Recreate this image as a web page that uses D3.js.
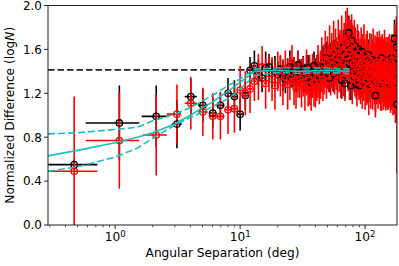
<!DOCTYPE html>
<html><head><meta charset="utf-8">
<script src="https://cdn.jsdelivr.net/npm/d3@7"></script>
<style>body{margin:0;background:#fff}svg{display:block}text{font-family:"DejaVu Sans",sans-serif;fill:#000}</style>
</head><body><svg id="c" width="399" height="266"></svg>
<script>
// ---- binned points (small separations) ----
const binX      = [0.47, 1.08, 2.13, 3.12, 4.03, 5.03, 6.04, 6.95, 8.0, 9.0, 10.0];
const blackBinY = [0.55, 0.93, 0.99, 0.92, 1.17, 1.09, 1.02, 1.09, 1.20, 1.17, 1.01];
const blackBinE = [0.05, 0.34, 0.28, 0.22, 0.16, 0.15, 0.14, 0.12, 0.14, 0.15, 0.15];
const blackBinXLo = [0.29, 0.58, 1.63, 2.84, 3.6, 4.6, 5.6, 6.5, 7.5, 8.5, 9.5];
const blackBinXHi = [0.72, 1.56, 2.67, 3.41, 4.5, 5.5, 6.5, 7.5, 8.5, 9.5, 10.5];
const redBinY   = [0.49, 0.77, 0.82, 1.01, 1.11, 1.03, 0.99, 0.99, 1.05, 1.06, 1.23];
const redBinE   = [0.68, 0.44, 0.37, 0.27, 0.24, 0.22, 0.21, 0.21, 0.22, 0.22, 0.22];
const redBinXLo = [0.29, 0.58, 1.67, 2.59, 3.6, 4.6, 5.6, 6.5, 7.5, 8.5, 9.5];
const redBinXHi = [0.72, 1.56, 2.59, 3.31, 4.5, 5.5, 6.5, 7.5, 8.5, 9.5, 10.5];

// ---- dense points, one per degree from 11 to 180 ----
const denseX = d3.range(11, 181);
const denseHalfWidth = 0.5;
const blackDenseY = [
1.18,1.41,1.45,1.39,1.34,1.43,1.44,1.38,1.40,1.37,
1.42,1.36,1.33,1.40,1.44,1.38,1.41,1.35,1.46,1.39,
1.37,1.42,1.34,1.40,1.43,1.36,1.30,1.39,1.45,1.38,
1.33,1.41,1.36,1.44,1.40,1.47,1.37,1.43,1.52,1.39,
1.46,1.34,1.50,1.42,1.48,1.38,1.55,1.44,1.36,1.51,
1.45,1.58,1.40,1.53,1.32,1.49,1.62,1.44,1.29,1.56,
1.47,1.66,1.52,1.75,1.41,1.60,1.27,1.68,1.50,1.43,
1.57,1.35,1.63,1.46,1.28,1.54,1.42,1.60,1.38,1.27,
1.50,1.44,1.36,1.58,1.41,1.32,1.47,1.39,1.53,1.35,
1.44,1.30,1.49,1.38,1.42,1.55,1.34,1.46,1.40,1.28,
1.43,1.37,1.51,1.33,1.45,1.39,1.48,1.31,1.42,1.36,
1.18,1.44,1.38,1.50,1.34,1.41,1.47,1.29,1.43,1.37,
1.40,1.33,1.46,1.38,1.52,1.35,1.42,1.30,1.44,1.39,
1.36,1.48,1.31,1.41,1.37,1.45,1.33,1.40,1.50,1.35,
1.38,1.43,1.30,1.46,1.36,1.41,1.28,1.44,1.39,1.47,
1.34,1.40,1.52,1.37,1.31,1.45,1.42,1.36,1.48,1.33,
1.39,1.70,1.35,1.43,1.30,1.46,1.38,1.41,1.62,1.10];
const blackDenseE = [
0.13,0.12,0.14,0.12,0.13,0.15,0.12,0.13,0.14,0.12,
0.12,0.14,0.13,0.12,0.15,0.13,0.12,0.14,0.13,0.12,
0.14,0.12,0.13,0.15,0.12,0.13,0.14,0.12,0.13,0.14,
0.13,0.15,0.12,0.14,0.13,0.16,0.12,0.14,0.15,0.13,
0.15,0.13,0.16,0.14,0.13,0.17,0.14,0.15,0.13,0.16,
0.14,0.16,0.13,0.15,0.17,0.14,0.16,0.15,0.13,0.17,
0.15,0.17,0.14,0.16,0.15,0.18,0.13,0.16,0.15,0.14,
0.16,0.14,0.17,0.15,0.13,0.16,0.14,0.17,0.15,0.13,
0.15,0.14,0.16,0.13,0.15,0.17,0.14,0.15,0.16,0.13,
0.14,0.16,0.15,0.13,0.17,0.14,0.15,0.16,0.13,0.15,
0.16,0.14,0.15,0.17,0.13,0.16,0.14,0.15,0.16,0.14,
0.15,0.17,0.14,0.16,0.15,0.13,0.17,0.15,0.14,0.16,
0.15,0.16,0.14,0.17,0.15,0.14,0.16,0.15,0.17,0.14,
0.16,0.15,0.17,0.14,0.16,0.15,0.18,0.14,0.16,0.15,
0.17,0.15,0.16,0.18,0.14,0.17,0.15,0.16,0.18,0.15,
0.16,0.18,0.15,0.17,0.19,0.16,0.18,0.15,0.17,0.19,
0.18,0.17,0.20,0.18,0.19,0.17,0.21,0.18,0.20,0.16];
const redDenseY = [
1.20,1.24,1.31,1.35,1.44,1.29,1.38,1.33,1.27,1.40,
1.36,1.30,1.42,1.28,1.34,1.46,1.31,1.25,1.37,1.33,
1.29,1.35,1.24,1.39,1.27,1.32,1.22,1.36,1.30,1.26,
1.34,1.40,1.29,1.37,1.46,1.33,1.42,1.51,1.36,1.48,
1.43,1.55,1.39,1.50,1.45,1.58,1.41,1.53,1.47,1.36,
1.60,1.44,1.52,1.38,1.63,1.49,1.42,1.57,1.35,1.66,
1.54,1.70,1.45,1.62,1.38,1.58,1.49,1.64,1.33,1.55,
1.47,1.60,1.39,1.52,1.44,1.31,1.56,1.42,1.50,1.36,
1.45,1.33,1.53,1.40,1.28,1.48,1.37,1.55,1.43,1.30,
1.39,1.47,1.32,1.51,1.36,1.44,1.27,1.42,1.49,1.35,
1.31,1.46,1.38,1.43,1.29,1.52,1.36,1.41,1.34,1.47,
1.25,1.40,1.45,1.33,1.48,1.37,1.30,1.44,1.39,1.51,
1.35,1.42,1.28,1.46,1.38,1.32,1.49,1.36,1.41,1.30,
1.44,1.37,1.50,1.33,1.40,1.27,1.45,1.38,1.35,1.47,
1.32,1.41,1.36,1.29,1.44,1.38,1.49,1.34,1.40,1.31,
1.43,1.36,1.30,1.47,1.39,1.33,1.28,1.42,1.37,1.45,
1.31,1.55,1.40,1.34,1.26,1.48,1.36,1.58,1.44,1.17];
const redDenseE = [
0.20,0.22,0.18,0.21,0.19,0.23,0.17,0.20,0.22,0.18,
0.19,0.21,0.17,0.23,0.20,0.18,0.22,0.19,0.21,0.17,
0.22,0.18,0.20,0.21,0.19,0.23,0.18,0.20,0.22,0.19,
0.21,0.24,0.19,0.22,0.25,0.20,0.23,0.26,0.21,0.24,
0.22,0.27,0.21,0.25,0.23,0.28,0.22,0.26,0.24,0.21,
0.27,0.23,0.26,0.22,0.28,0.24,0.25,0.27,0.22,0.29,
0.25,0.28,0.23,0.27,0.24,0.29,0.26,0.28,0.23,0.27,
0.24,0.27,0.22,0.26,0.25,0.23,0.27,0.24,0.26,0.22,
0.25,0.23,0.27,0.24,0.22,0.26,0.24,0.28,0.23,0.25,
0.24,0.27,0.23,0.26,0.25,0.22,0.27,0.24,0.26,0.23,
0.25,0.28,0.23,0.26,0.24,0.27,0.22,0.25,0.24,0.26,
0.27,0.24,0.26,0.23,0.28,0.25,0.24,0.27,0.23,0.26,
0.25,0.27,0.24,0.26,0.23,0.28,0.25,0.24,0.27,0.25,
0.26,0.24,0.28,0.25,0.27,0.23,0.26,0.25,0.28,0.24,
0.27,0.25,0.26,0.24,0.28,0.26,0.25,0.27,0.24,0.29,
0.26,0.28,0.25,0.27,0.30,0.26,0.28,0.25,0.29,0.27,
0.30,0.28,0.32,0.29,0.33,0.30,0.35,0.32,0.40,0.70];

// ---- model curves (cyan) ----
const modelX     = [0.29, 0.5, 1, 1.5, 2, 3, 4, 5, 6, 8, 10, 13, 20, 30, 50, 75];
const modelMid   = [0.63, 0.68, 0.75, 0.80, 0.84, 0.92, 1.00, 1.07, 1.12, 1.22, 1.30, 1.40, 1.41, 1.40, 1.41, 1.40];
const modelUpper = [0.83, 0.84, 0.87, 0.89, 0.95, 1.01, 1.07, 1.13, 1.18, 1.27, 1.33, 1.42, 1.43, 1.43, 1.43, 1.42];
const modelLower = [0.49, 0.53, 0.62, 0.70, 0.79, 0.91, 0.98, 1.03, 1.08, 1.15, 1.24, 1.36, 1.39, 1.38, 1.39, 1.38];
const refLevel = 1.414;

const yTicks = [0, 0.4, 0.8, 1.2, 1.6, 2.0];
const xMajor = [1, 10, 100];
const xMajorExp = ["0", "1", "2"];

// ---- build data ----
const black = binX.map((x,i)=>({x, y:blackBinY[i], e:blackBinE[i], xlo:blackBinXLo[i], xhi:blackBinXHi[i]}))
  .concat(denseX.map((x,i)=>({x, y:blackDenseY[i], e:blackDenseE[i], xlo:x-denseHalfWidth, xhi:x+denseHalfWidth})));
const red = binX.map((x,i)=>({x, y:redBinY[i], e:redBinE[i], xlo:redBinXLo[i], xhi:redBinXHi[i]}))
  .concat(denseX.map((x,i)=>({x, y:redDenseY[i], e:redDenseE[i], xlo:x-denseHalfWidth, xhi:x+denseHalfWidth})));

const L=48, R=397, T=5.5, B=225;
const xs = d3.scaleLog().domain([0.29,180]).range([L,R]);
const ys = d3.scaleLinear().domain([0,2]).range([B,T]);
const svg = d3.select("#c");
svg.append("defs").append("clipPath").attr("id","clip").append("rect")
  .attr("x",L).attr("y",T).attr("width",R-L).attr("height",B-T);
const g = svg.append("g").attr("clip-path","url(#clip)");

// reference dashed line
g.append("line").attr("x1",L).attr("x2",R).attr("y1",ys(refLevel)).attr("y2",ys(refLevel))
  .attr("stroke","#222").attr("stroke-width",1.8).attr("stroke-dasharray","6.5,3");

function bars(data,color){
  const gg=g.append("g").attr("stroke",color).attr("stroke-width",1.6);
  gg.selectAll(".v").data(data).join("line")
    .attr("x1",d=>xs(d.x)).attr("x2",d=>xs(d.x)).attr("y1",d=>ys(d.y-d.e)).attr("y2",d=>ys(d.y+d.e));
  gg.selectAll(".h").data(data).join("line")
    .attr("x1",d=>xs(d.xlo)).attr("x2",d=>xs(d.xhi)).attr("y1",d=>ys(d.y)).attr("y2",d=>ys(d.y));
}
function marks(data,color){
  g.append("g").selectAll("circle").data(data).join("circle")
    .attr("cx",d=>xs(d.x)).attr("cy",d=>ys(d.y)).attr("r",3.2)
    .attr("fill","none").attr("stroke",color).attr("stroke-width",1.3);
}
bars(black,"#000");
bars(red,"#ff0000");
marks(black,"#000");
marks(red,"#ff0000");

const line = d3.line().x(d=>xs(d[0])).y(d=>ys(d[1]));
g.append("path").attr("d",line(modelX.map((x,i)=>[x,modelMid[i]])))
  .attr("fill","none").attr("stroke","#17bfbf").attr("stroke-width",1.6);
[modelUpper, modelLower].forEach(arr=>{
  g.append("path").attr("d",line(modelX.map((x,i)=>[x,arr[i]])))
    .attr("fill","none").attr("stroke","#17bfbf").attr("stroke-width",1.6).attr("stroke-dasharray","7,3");
});

// frame
svg.append("rect").attr("x",L).attr("y",T).attr("width",R-L).attr("height",B-T)
  .attr("fill","none").attr("stroke","#222").attr("stroke-width",1);

// y ticks
yTicks.forEach(v=>{
  svg.append("line").attr("x1",L-4).attr("x2",L).attr("y1",ys(v)).attr("y2",ys(v)).attr("stroke","#222");
  svg.append("text").attr("x",L-6).attr("y",ys(v)).attr("dy","0.36em").attr("text-anchor","end")
    .attr("font-size","12px").text(v.toFixed(1));
});
// x ticks
const minor=[];
[0.1,1,10,100].forEach(dec=>{for(let k=2;k<=9;k++){const v=dec*k; if(v>=0.29&&v<=180) minor.push(v);}});
minor.forEach(v=>svg.append("line").attr("x1",xs(v)).attr("x2",xs(v)).attr("y1",B).attr("y2",B+2.3).attr("stroke","#222").attr("stroke-width",0.8));
xMajor.forEach((v,i)=>{
  svg.append("line").attr("x1",xs(v)).attr("x2",xs(v)).attr("y1",B).attr("y2",B+4).attr("stroke","#222");
  const t=svg.append("text").attr("x",xs(v)).attr("y",241).attr("text-anchor","middle").attr("font-size","12.2px");
  t.append("tspan").text("10");
  t.append("tspan").attr("dy","-0.45em").attr("font-size","8.6px").text(xMajorExp[i]);
});
svg.append("text").attr("x",(L+R)/2).attr("y",257).attr("text-anchor","middle").attr("font-size","12.2px")
  .text("Angular Separation (deg)");
const yl=svg.append("text").attr("transform",`translate(14,${(T+B)/2}) rotate(-90)`).attr("text-anchor","middle").attr("font-size","12.2px");
yl.append("tspan").text("Normalized Difference (log");
yl.append("tspan").attr("font-style","italic").text("N");
yl.append("tspan").text(")");
</script></body></html>
